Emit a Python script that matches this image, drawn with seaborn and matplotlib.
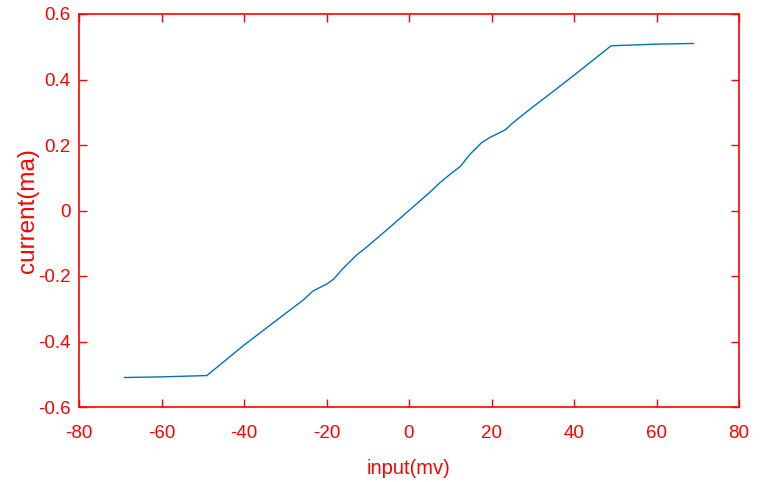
import matplotlib
matplotlib.use("Agg")
import matplotlib.pyplot as plt
import seaborn as sns
import pandas as pd

input_mv = [-69, -60, -49, -40, -35, -30, -25.6, -23.3, -20, -18.3, -16, -12.7, -10.3, -5, 0,
            5, 7.5, 10.3, 12.4, 14.8, 17.6, 19.6, 23.3, 25.3, 30, 35, 40, 49, 60, 69]
current_ma = [-0.510, -0.508, -0.504, -0.411, -0.363, -0.315, -0.273, -0.246, -0.225, -0.210, -0.177,
              -0.136, -0.112, -0.055, 0.0, 0.055, 0.085, 0.114, 0.134, 0.172, 0.207, 0.223, 0.246,
              0.269, 0.316, 0.364, 0.413, 0.503, 0.508, 0.510]
x_ticks = [-80, -60, -40, -20, 0, 20, 40, 60, 80]
y_ticks = [-0.6, -0.4, -0.2, 0, 0.2, 0.4, 0.6]
y_tick_labels = ["-0.6", "-0.4", "-0.2", "0", "0.2", "0.4", "0.6"]

sns.set_style("white")
plt.rcParams['font.family'] = ['Liberation Sans', 'DejaVu Sans']

df = pd.DataFrame({"input": input_mv, "current": current_ma})

fig = plt.figure(figsize=(7.65, 4.82), dpi=100)
ax = fig.add_axes([79/765, 1 - 407/482, 660/765, 393/482])
sns.lineplot(data=df, x="input", y="current", sort=False, estimator=None,
             color="#0072BD", linewidth=1.0, ax=ax)

red = "#FF0000"
ax.set_xlim(-80, 80)
ax.set_ylim(-0.6, 0.6)
ax.set_xticks(x_ticks)
ax.set_xticklabels([str(t) for t in x_ticks])
ax.set_yticks(y_ticks)
ax.set_yticklabels(y_tick_labels)
for s in ax.spines.values():
    s.set_color(red)
    s.set_linewidth(1.2)
ax.tick_params(axis="both", which="both", direction="in", colors=red, labelsize=13.5,
               length=6, width=1, top=True, right=True, bottom=True, left=True)
ax.tick_params(axis="x", pad=13)
ax.tick_params(axis="y", pad=6)
ax.set_xlabel("input(mv)", color=red, fontsize=14.5, labelpad=12)
ax.set_ylabel("current(ma)", color=red, fontsize=17.5)
ax.yaxis.set_label_coords(-0.06, 0.5)

fig.savefig("out.png", dpi=100)
